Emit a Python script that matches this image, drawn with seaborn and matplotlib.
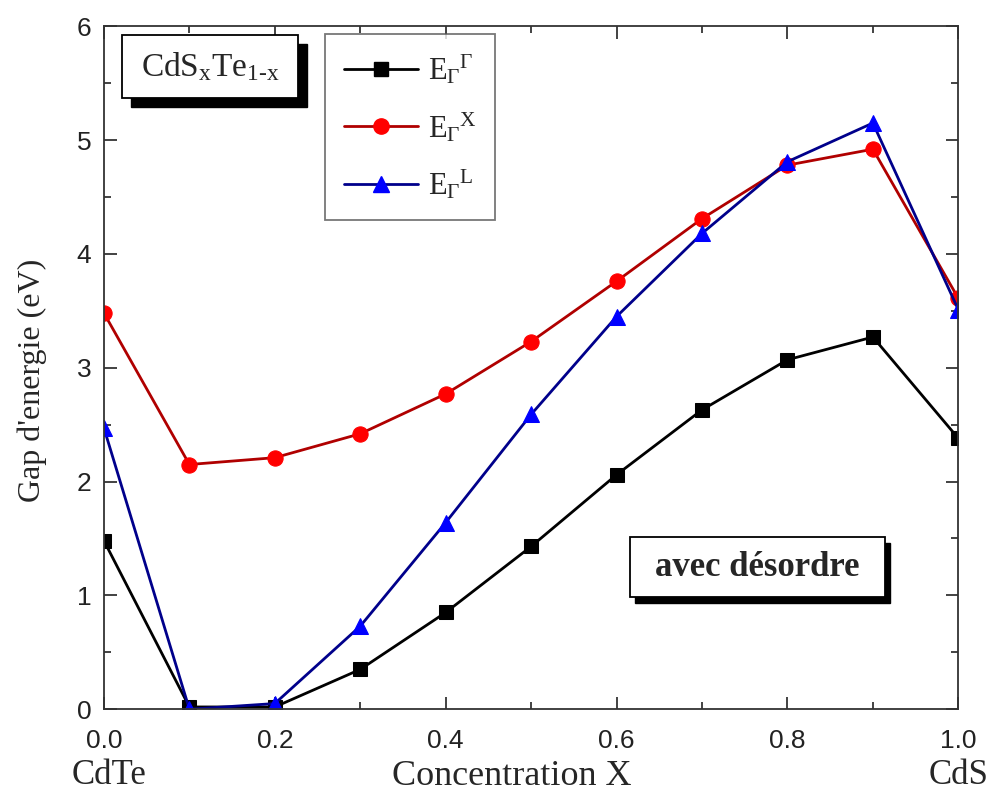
import numpy as np
import pandas as pd
import matplotlib
matplotlib.use("Agg")
import matplotlib.pyplot as plt
from matplotlib.patches import Rectangle
from matplotlib.ticker import MultipleLocator
import seaborn as sns

# Composition x of CdS_x Te_(1-x)
concentration = [0.0, 0.1, 0.2, 0.3, 0.4, 0.5, 0.6, 0.7, 0.8, 0.9, 1.0]

# Band gaps (eV)
gap_gamma = [1.48, 0.02, 0.02, 0.35, 0.85, 1.43, 2.06, 2.63, 3.07, 3.27, 2.38]
gap_x = [3.48, 2.15, 2.21, 2.42, 2.77, 3.23, 3.76, 4.31, 4.78, 4.92, 3.61]
gap_l = [2.47, 0.00, 0.05, 0.73, 1.64, 2.59, 3.45, 4.18, 4.81, 5.15, 3.51]

series_names = [r"$E_{\Gamma}{}^{\Gamma}$", r"$E_{\Gamma}{}^{X}$", r"$E_{\Gamma}{}^{L}$"]
series_values = [gap_gamma, gap_x, gap_l]
line_colors = ["#000000", "#b00000", "#00008b"]
marker_colors = ["#000000", "#ff0000", "#0000ff"]
marker_shapes = ["s", "o", "^"]
marker_sizes = [9.5, 11, 11]

x_ticks = [0.0, 0.2, 0.4, 0.6, 0.8, 1.0]
y_ticks = [0, 1, 2, 3, 4, 5, 6]

sns.set_style("ticks")
plt.rcParams["font.family"] = ["Liberation Sans", "DejaVu Sans"]
plt.rcParams["mathtext.fontset"] = "custom"
plt.rcParams["mathtext.rm"] = "Liberation Serif"
plt.rcParams["mathtext.it"] = "Liberation Serif"
plt.rcParams["mathtext.bf"] = "Liberation Serif:bold"

df = pd.DataFrame({
    "x": concentration * 3,
    "gap": [v for s in series_values for v in s],
    "series": [n for n in series_names for _ in concentration],
})

fig = plt.figure(figsize=(9.9, 7.96), dpi=100)
ax = fig.add_axes([0.105, 0.109, 0.863, 0.858])

sns.lineplot(data=df, x="x", y="gap", hue="series", style="series",
             hue_order=series_names, style_order=series_names,
             palette=dict(zip(series_names, line_colors)),
             markers=dict(zip(series_names, marker_shapes)),
             dashes=False, linewidth=2.0, markersize=10,
             ax=ax, legend=False)

# brighter marker fills, individual sizes
for line, mc, ms in zip(ax.get_lines(), marker_colors, marker_sizes):
    line.set_markerfacecolor(mc)
    line.set_markeredgecolor(mc)
    line.set_markersize(ms)

ax.set_xlim(0, 1.0)
ax.set_ylim(0, 6)
ax.set_xticks(x_ticks)
ax.set_xticklabels([f"{t:.1f}" for t in x_ticks])
ax.set_yticks(y_ticks)
ax.xaxis.set_minor_locator(MultipleLocator(0.1))
ax.yaxis.set_minor_locator(MultipleLocator(0.5))
ax.tick_params(which="both", direction="in", top=True, right=True,
               width=1.2, labelsize=19, colors="#222222")
ax.tick_params(which="major", length=9)
ax.tick_params(which="minor", length=5)
ax.tick_params(axis="x", which="major", pad=14)
ax.tick_params(axis="y", which="major", pad=9)
for sp in ax.spines.values():
    sp.set_linewidth(1.3)
    sp.set_color("#333333")

serif = ["Liberation Serif", "DejaVu Serif"]
ax.set_xlabel("Concentration X", fontsize=26, family=serif)
ax.xaxis.set_label_coords(0.477, -0.098)
ax.xaxis.label.set_va("center")
ax.set_ylabel("Gap d'energie (eV)", fontsize=23, family=serif)
ax.yaxis.set_label_coords(-0.084, 0.482)
ax.yaxis.label.set_va("center")
ax.text(0.006, -0.097, "CdTe", transform=ax.transAxes, fontsize=25,
        family=serif, ha="center", va="center")
ax.text(1.0, -0.097, "CdS", transform=ax.transAxes, fontsize=25,
        family=serif, ha="center", va="center")

# legend
handles = [plt.Line2D([], [], color=lc, lw=2.0, marker=m, markersize=ms,
                      markerfacecolor=mc, markeredgecolor=mc)
           for lc, mc, m, ms in zip(line_colors, marker_colors, marker_shapes,
                                    marker_sizes)]
leg = ax.legend(handles, series_names, loc="upper left",
                bbox_to_anchor=(0.259, 0.988), fontsize=22,
                frameon=True, fancybox=False, handlelength=2.45,
                labelspacing=0.78, borderpad=0.6, handletextpad=0.3,
                borderaxespad=0)
leg.get_frame().set_edgecolor("#555555")
leg.get_frame().set_linewidth(1.3)


def shadow_box(x0, y0, w, h, dx, dy, text, **kw):
    ax.add_patch(Rectangle((x0 + dx, y0 - dy), w, h, transform=ax.transAxes,
                           facecolor="black", edgecolor="black", zorder=5,
                           clip_on=False))
    ax.add_patch(Rectangle((x0, y0), w, h, transform=ax.transAxes,
                           facecolor="white", edgecolor="black", lw=1.3,
                           zorder=6, clip_on=False))
    ax.text(x0 + w / 2, y0 + h / 2, text, transform=ax.transAxes,
            ha="center", va="center", zorder=7, **kw)


shadow_box(0.021, 0.895, 0.206, 0.092, 0.011, 0.013,
           r"CdS$_{\mathregular{x}}$Te$_{\mathregular{1\text{-}x}}$",
           fontsize=24, family=serif)
shadow_box(0.616, 0.164, 0.298, 0.088, 0.006, 0.008,
           "avec désordre", fontsize=25, family=serif, fontweight="bold")

fig.savefig("out.png", dpi=100)
